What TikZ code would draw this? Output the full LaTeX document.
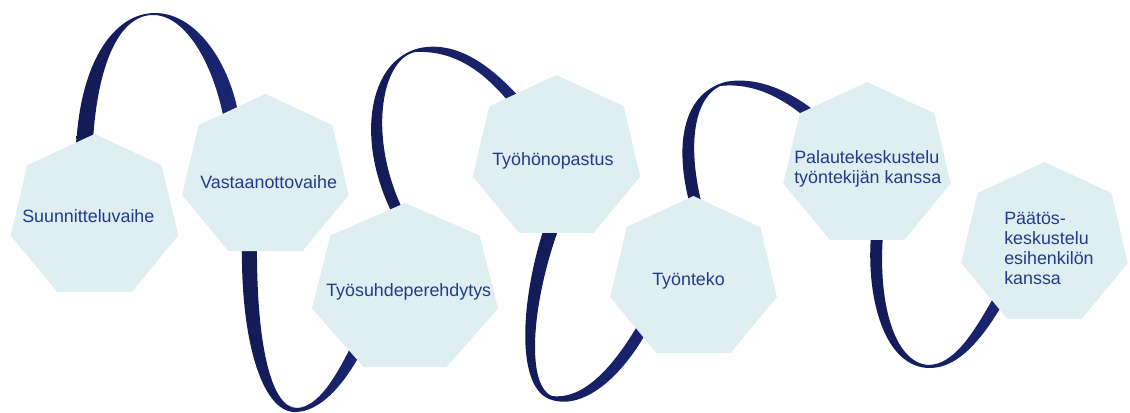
\documentclass[tikz,border=0pt]{standalone}
\usepackage{fontspec}
\setmainfont{Liberation Sans}
\usepackage{xcolor}
\definecolor{hepfill}{HTML}{DFEEF1}
\definecolor{steptext}{HTML}{1F3D8C}
\definecolor{ribdark}{HTML}{121B54}
\definecolor{riblight}{HTML}{1B2572}
\tikzset{
  hepta/.style={fill=hepfill, draw=none},
  ribbon/.style={left color=ribdark, right color=riblight, draw=none},
  steplabel/.style={inner sep=0pt, text=steptext, align=left,
    font=\fontsize{13.4pt}{14.8pt}\selectfont},
}

\begin{document}
\begin{tikzpicture}[x=0.75pt,y=-0.75pt]
\useasboundingbox (0,0) rectangle (1130,412);
\fill[white] (0,0) rectangle (1130,412);
% heptagon centres
\coordinate (h1) at (94.5,217);
\coordinate (h2) at (265.5,176.6);
\coordinate (h3) at (405,289.3);
\coordinate (h4) at (556.5,158);
\coordinate (h5) at (693.5,278.6);
\coordinate (h6) at (867,165);
\coordinate (h7) at (1044.5,244.6);
% ribbons
\path[ribbon] (76,148) .. controls (80,60) and (115,13) .. (155,13)
  .. controls (195,13) and (228,60) .. (238,112)
  -- (224,120) .. controls (213,62) and (185,15) .. (153,15)
  .. controls (120,15) and (98,62) .. (93,140) -- cycle;
\path[ribbon] (242,240) .. controls (240,340) and (262,412) .. (295,412)
  .. controls (320,412) and (345,385) .. (365,345)
  -- (355,338) .. controls (336,378) and (318,407) .. (297,408)
  .. controls (270,408) and (256,340) .. (257,240) -- cycle;
\path[ribbon] (393,215) .. controls (355,140) and (368,60) .. (420,48)
  .. controls (460,40) and (495,70) .. (522,100)
  -- (512,106) .. controls (485,72) and (455,50) .. (415,52)
  .. controls (380,60) and (368,140) .. (404,212) -- cycle;
\path[ribbon] (545,225) .. controls (520,300) and (515,390) .. (552,400)
  .. controls (585,410) and (625,375) .. (652,322)
  -- (642,318) .. controls (615,365) and (585,400) .. (552,396)
  .. controls (525,385) and (532,300) .. (560,225) -- cycle;
\path[ribbon] (690,205) .. controls (675,150) and (680,95) .. (725,82)
  .. controls (760,75) and (795,95) .. (816,112)
  -- (806,118) .. controls (785,100) and (755,82) .. (720,86)
  .. controls (692,100) and (688,150) .. (702,205) -- cycle;
\path[ribbon] (871,235) .. controls (866,300) and (885,368) .. (930,368)
  .. controls (960,368) and (985,335) .. (1005,300)
  -- (995,295) .. controls (975,330) and (955,365) .. (928,365)
  .. controls (893,362) and (878,300) .. (883,235) -- cycle;
% heptagons
\foreach \c/\r/\s in {h1/83/1.035, h2/82.6/1.035, h3/86.3/1.105, h4/83/1.035,
    h5/82.6/1.035, h6/83/1.035, h7/82.6/1.035} {
  \begin{scope}[shift={(\c)}, xscale=\s]
    \fill[hepta] (270:\r) \foreach \k in {1,...,6} { -- ({270+\k*360/7}:\r) } -- cycle;
  \end{scope}
}
% labels
\node[steplabel, anchor=base west] (suunn) at (22,222.7) {Suunnitteluvaihe};
\node[steplabel, anchor=base west] (vasta) at (200,188) {Vastaanottovaihe};
\node[steplabel, anchor=base west] (perehd) at (326,296) {Työsuhdeperehdytys};
\node[steplabel, anchor=base west] (opastus) at (492,165.7) {Työhönopastus};
\node[steplabel, anchor=base west] (tyonteko) at (652,285) {Työnteko};
\node[steplabel, anchor=west] (palaute) at (794,168.9) {Palautekeskustelu\\työntekijän kanssa};
\node[steplabel, anchor=west] (paatos) at (1004,248.5) {Päätös-\\keskustelu\\esihenkilön\\kanssa};
\end{tikzpicture}
\end{document}
